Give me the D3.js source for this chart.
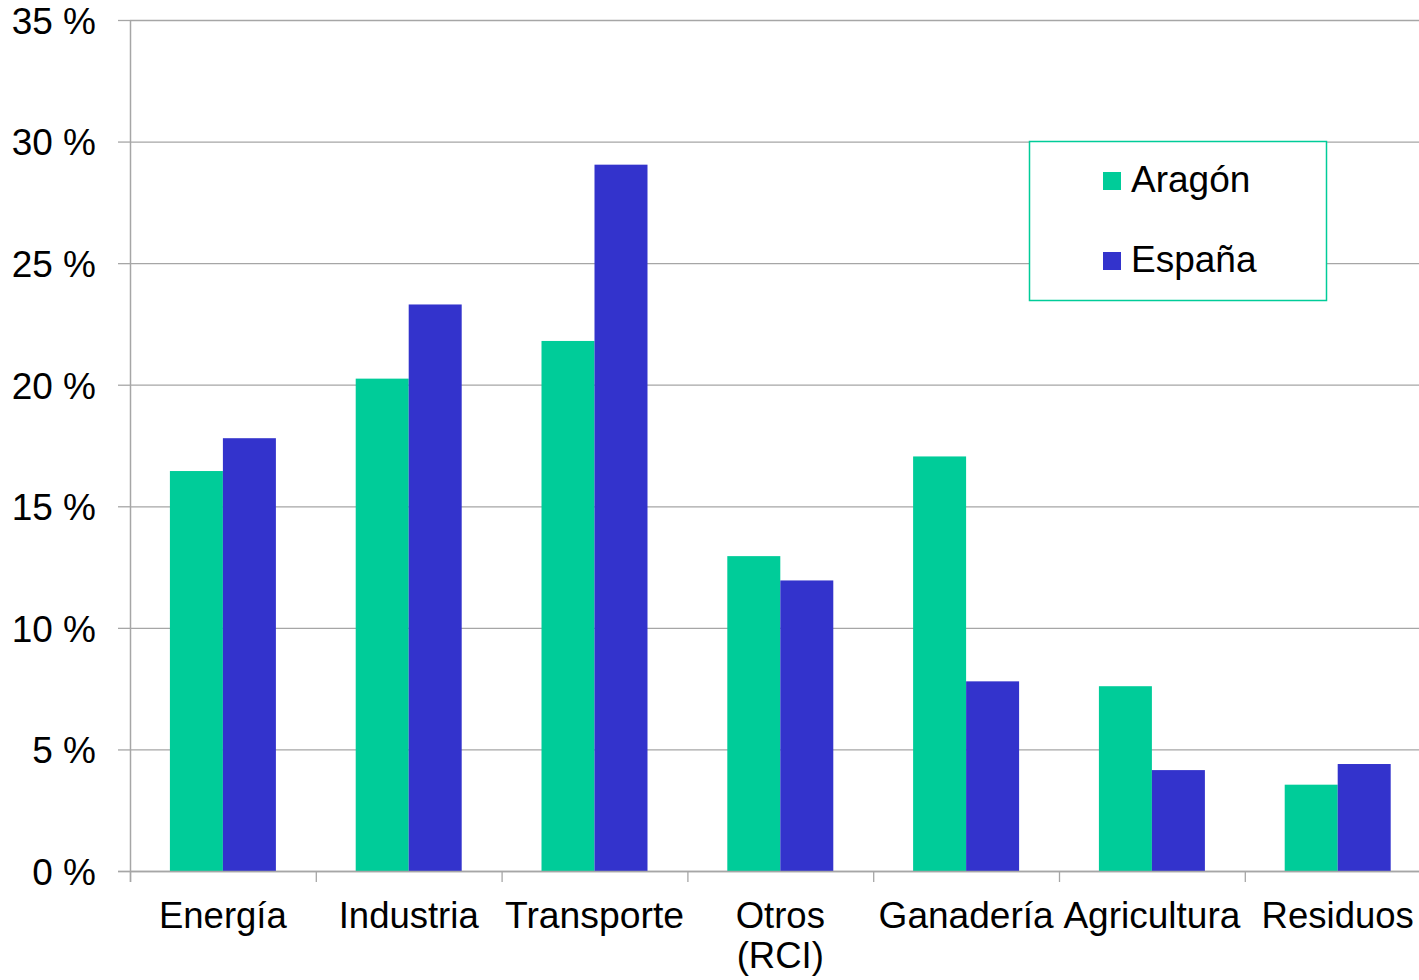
<!DOCTYPE html>
<html>
<head>
<meta charset="utf-8">
<script src="https://cdn.jsdelivr.net/npm/d3@7"></script>
<style>
  body { margin: 0; background: #fff; }
  text { font-family: "Liberation Sans", Arial, sans-serif; fill: #000; }
</style>
</head>
<body>
<svg id="chart" width="1419" height="980"></svg>
<script>
// data
var categories = ["Energía", "Industria", "Transporte", "Otros (RCI)", "Ganadería", "Agricultura", "Residuos"];
var seriesNames = ["Aragón", "España"];
var aragon = [16.45, 20.25, 21.8, 12.95, 17.05, 7.6, 3.55];
var espana = [17.8, 23.3, 29.05, 11.95, 7.8, 4.15, 4.4];
var yTicks = [0, 5, 10, 15, 20, 25, 30, 35];
var colors = ["#00CC99", "#3333CC"];

var svg = d3.select("#chart");
var plotLeft = 130, plotRight = 130 + 7 * 185.8, plotTop = 20, plotBottom = 871, edge = 1419;

var x = d3.scaleBand().domain(categories).range([plotLeft, plotRight]).paddingInner(0).paddingOuter(0);
var xSub = d3.scaleBand().domain(seriesNames).range([0, x.bandwidth()]).paddingInner(0).paddingOuter(0.753);
var y = d3.scaleLinear().domain([0, 35]).range([plotBottom, plotTop]);

// gridlines
svg.append("g")
    .attr("transform", "translate(" + plotLeft + ",0)")
    .call(d3.axisLeft(y).tickValues(yTicks).tickSize(-(edge - plotLeft)).tickFormat(""))
    .call(g => g.select(".domain").remove())
    .call(g => g.selectAll("line").attr("stroke", "#a6a6a6").attr("stroke-width", 1.3));

// y axis
var yAxis = svg.append("g")
    .attr("transform", "translate(" + plotLeft + ",0)")
    .call(d3.axisLeft(y).tickValues(yTicks).tickSize(12).tickPadding(22).tickFormat(d => d + " %"));
yAxis.select(".domain").attr("stroke", "#a6a6a6").attr("stroke-width", 1.5).attr("d", "M0.5," + plotTop + "V" + (plotBottom + 11));
yAxis.selectAll("line").attr("stroke", "#a6a6a6").attr("stroke-width", 1.3);
yAxis.selectAll("text").attr("font-size", 37).attr("dy", "0.36em")
    .style("font-family", "'Liberation Sans', Arial, sans-serif").attr("fill", "#000");

// bars
var data = categories.map((c, i) => ({cat: c, vals: [aragon[i], espana[i]]}));
var groups = svg.append("g").selectAll("g").data(data).join("g")
    .attr("transform", d => "translate(" + x(d.cat) + ",0)");
groups.selectAll("rect").data(d => d.vals.map((v, j) => ({name: seriesNames[j], v: v, j: j})))
    .join("rect")
    .attr("x", d => xSub(d.name))
    .attr("width", xSub.bandwidth())
    .attr("y", d => y(d.v))
    .attr("height", d => plotBottom - y(d.v))
    .attr("fill", d => colors[d.j]);

// x axis
var xAxis = svg.append("g")
    .attr("transform", "translate(0," + plotBottom + ")");
xAxis.append("line").attr("x1", plotLeft - 12).attr("x2", edge).attr("y1", 0.5).attr("y2", 0.5)
    .attr("stroke", "#a6a6a6").attr("stroke-width", 1.5);
xAxis.selectAll(".tk").data(categories).join("line").attr("class", "tk")
    .attr("x1", d => x(d) + 0.5).attr("x2", d => x(d) + 0.5).attr("y1", 0).attr("y2", 11)
    .attr("stroke", "#a6a6a6").attr("stroke-width", 1.3);
var narrow = {"Ganadería": 175, "Agricultura": 177, "Transporte": 179};
xAxis.selectAll(".lbl").data(categories).join("text").attr("class", "lbl")
    .attr("text-anchor", "middle")
    .attr("font-size", 36.5)
    .attr("x", d => x(d) + x.bandwidth() / 2)
    .attr("y", 57)
    .each(function(d) {
        var parts = d.split(" ");
        var t = d3.select(this);
        parts.forEach((p, k) => {
            var ts = t.append("tspan").attr("x", x(d) + x.bandwidth() / 2).attr("dy", k === 0 ? 0 : 40).text(p);
            if (narrow[p]) ts.attr("textLength", narrow[p]).attr("lengthAdjust", "spacingAndGlyphs");
        });
    });

// legend
var legend = svg.append("g");
legend.append("rect").attr("x", 1029.5).attr("y", 141.5).attr("width", 297).attr("height", 159)
    .attr("fill", "#fff").attr("stroke", "#00CC99").attr("stroke-width", 1.5);
var li = legend.selectAll(".li").data(seriesNames).join("g").attr("class", "li")
    .attr("transform", (d, i) => "translate(1103," + (172 + i * 80) + ")");
li.append("rect").attr("width", 18).attr("height", 18).attr("fill", (d, i) => colors[i]);
li.append("text").attr("x", 28).attr("y", 20).attr("font-size", 37).text(d => d);
</script>
</body>
</html>
